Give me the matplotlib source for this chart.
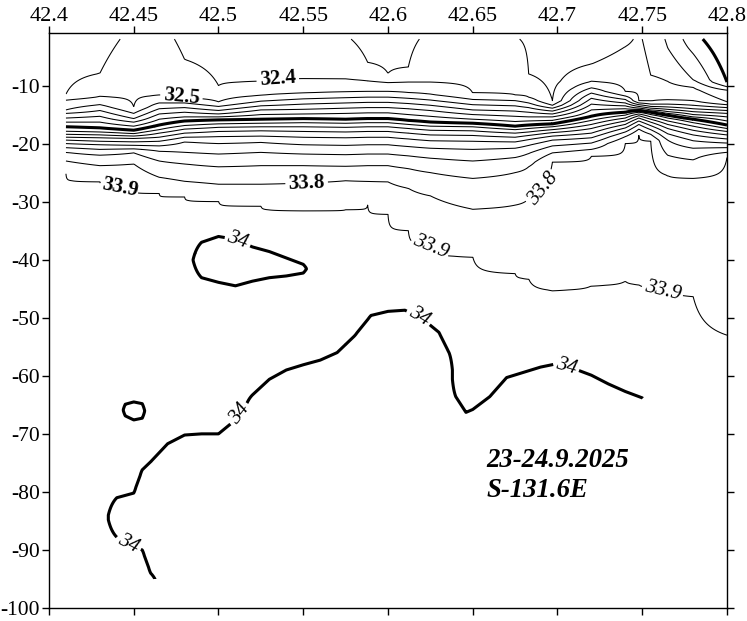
import numpy as np
import matplotlib
matplotlib.use("Agg")
import matplotlib.pyplot as plt

plt.rcParams['font.family'] = 'Liberation Serif'
plt.rcParams['axes.unicode_minus'] = False

nan = np.nan

# ---- upper layer: stations, surface salinity and isohaline depths ----
stations = [42.41, 42.43, 42.45, 42.465, 42.48, 42.50, 42.525, 42.55, 42.575, 42.588, 42.60,
            42.612, 42.625, 42.65, 42.675, 42.683, 42.697, 42.72, 42.74, 42.748, 42.755,
            42.765, 42.78, 42.80]
surface_sal = [32.33, 32.37, 32.42, 32.43, 32.38, 32.35, 32.34, 32.34, 32.31, 32.27, 32.24,
               32.28, 32.32, 32.34, 32.305, 32.29, 32.22, 32.23, 32.27, 32.32, 32.25,
               32.19, 32.04, 31.90]
levels = [32.0, 32.1, 32.2, 32.3, 32.4, 32.5, 32.6, 32.7, 32.8, 32.9,
          33.0, 33.1, 33.2, 33.3, 33.4, 33.5, 33.6, 33.7, 33.8, 33.9]
# depth (m) where each isohaline crosses each station, nan = not crossed
iso_depth = [
    [nan] * 23 + [-9.4],
    [nan] * 22 + [-4.5, -10.2],
    [nan] * 21 + [-3.5, -9.0, -10.8],
    [nan, nan, nan, nan, nan, nan, nan, nan, nan, -6.0, -7.9, -6.8, nan, nan, nan, -8.0, -12.6, -6.3, -3.3, nan, -8.2, -9.3, -10.3, -12.8],
    [-11.5, -7.9, nan, nan, -5.5, -10.0, -9.3, -8.8, -8.9, -9.2, -9.5, -9.4, -9.4, -11.3, -11.6, -12.0, -13.4, -9.3, -11.0, -12.6, -12.7, -12.5, -12.6, -13.3],
    [-12.5, -11.9, -13.7, -11.7, -12.1, -12.8, -11.7, -11.3, -11.1, -11.0, -11.0, -11.2, -11.5, -12.4, -12.6, -13.0, -13.9, -10.4, -11.8, -13.0, -13.2, -13.2, -13.4, -13.8],
    [-14.2, -13.3, -14.8, -13.0, -13.0, -13.6, -12.7, -12.3, -12.1, -12.0, -12.0, -12.2, -12.5, -13.3, -13.5, -13.8, -14.4, -11.3, -12.4, -13.3, -13.6, -13.7, -14.0, -14.3],
    [-14.8, -14.3, -15.7, -14.0, -13.8, -14.3, -13.5, -13.2, -13.0, -12.9, -12.9, -13.1, -13.4, -14.2, -14.4, -14.6, -14.9, -12.2, -13.0, -13.6, -13.9, -14.1, -14.5, -14.8],
    [-15.6, -15.3, -16.3, -14.9, -14.6, -14.9, -14.2, -14.1, -13.9, -13.8, -13.8, -14.0, -14.3, -15.0, -15.3, -15.4, -15.4, -13.2, -13.5, -13.9, -14.2, -14.5, -15.0, -15.4],
    [-16.3, -16.3, -17.0, -15.8, -15.4, -15.4, -15.0, -14.9, -14.8, -14.7, -14.7, -15.0, -15.3, -15.8, -16.2, -16.1, -16.0, -14.2, -14.0, -14.1, -14.4, -14.8, -15.4, -16.1],
    [-17.1, -17.3, -17.7, -16.8, -16.1, -15.9, -15.8, -15.7, -15.8, -15.7, -15.7, -16.0, -16.3, -16.5, -17.0, -16.8, -16.6, -15.3, -14.6, -14.3, -14.6, -15.1, -15.8, -16.8],
    [-17.9, -18.0, -18.3, -17.6, -16.9, -16.6, -16.5, -16.4, -16.5, -16.4, -16.4, -16.7, -17.0, -17.1, -17.6, -17.4, -17.1, -16.0, -15.1, -14.6, -15.0, -15.6, -16.4, -17.4],
    [-18.4, -18.5, -18.7, -18.2, -17.5, -17.2, -17.1, -17.1, -17.2, -17.1, -17.1, -17.4, -17.7, -17.8, -18.2, -18.0, -17.6, -16.7, -15.6, -14.9, -15.4, -16.1, -17.0, -17.9],
    [-18.9, -19.0, -19.1, -18.9, -18.2, -17.9, -17.8, -17.9, -18.0, -17.9, -17.9, -18.2, -18.5, -18.6, -18.9, -18.6, -18.1, -17.4, -16.1, -15.2, -15.8, -16.7, -17.7, -18.5],
    [-19.4, -19.6, -19.7, -19.6, -18.9, -18.8, -18.7, -18.9, -19.0, -18.9, -18.9, -19.2, -19.5, -19.6, -19.7, -19.3, -18.7, -18.2, -16.7, -15.6, -16.3, -17.4, -18.5, -19.2],
    [-20.0, -20.2, -20.3, -20.4, -19.7, -20.0, -19.8, -20.2, -20.3, -20.2, -20.2, -20.5, -20.8, -21.0, -20.8, -20.3, -19.4, -19.0, -17.3, -16.1, -16.9, -18.3, -19.5, -19.9],
    [-20.7, -21.0, -20.9, -21.3, -21.5, -21.8, -21.5, -21.8, -21.9, -21.8, -21.8, -22.1, -22.5, -23.0, -22.4, -21.7, -20.4, -19.9, -18.0, -16.7, -17.6, -19.4, -20.8, -20.7],
    [-21.5, -22.0, -21.6, -23.0, -23.5, -24.0, -23.8, -23.8, -23.9, -23.8, -23.8, -24.3, -25.0, -26.0, -25.0, -24.0, -21.6, -21.0, -18.8, -17.5, -18.4, -22.0, -22.8, -21.5],
    [-23.0, -23.8, -23.5, -25.8, -26.5, -27.0, -27.0, -26.8, -26.4, -26.5, -26.6, -27.7, -29.0, -31.3, -30.6, -29.5, -23.2, -22.2, -20.0, -18.6, -19.5, -25.5, -26.0, -22.4],
    [-25.2, -26.5, -27.5, -28.6, -29.2, -29.9, -30.8, -31.5, -31.4, -30.6, -32.2, -35.0, -37.5, -39.5, -42.4, -43.3, -45.3, -44.5, -43.7, -44.3, -44.8, -45.3, -46.3, -53.0],
]
deep_sal = 33.95  # below the 33.9 isohaline
labelled = [32.4, 32.5, 33.8, 33.9]

# ---- deep layer: where salinity exceeds 34 (top / bottom depth of the layer) ----
deep_x = [42.41, 42.43, 42.44, 42.445, 42.45, 42.455, 42.46, 42.47, 42.48, 42.49, 42.50,
          42.51, 42.52, 42.53, 42.54, 42.55, 42.56, 42.57, 42.58, 42.59, 42.60, 42.61,
          42.62, 42.63, 42.636, 42.64, 42.646, 42.65, 42.66, 42.67, 42.68, 42.69, 42.70,
          42.71, 42.72, 42.73, 42.74, 42.75, 42.76, 42.80]
big_top = [nan, nan, -81.0, -80.6, -80.2, -76.2, -74.8, -71.7, -70.2, -70.0, -70.0,
           -67.6, -63.3, -60.6, -59.0, -58.1, -57.3, -56.0, -53.2, -49.6, -48.9, -48.7,
           -50.1, -52.5, -56.0, -63.6, -66.3, -65.8, -63.6, -60.3, -59.4, -58.5, -57.9,
           -58.8, -59.9, -61.4, -62.7, -63.8, nan, nan]
big_bot = [nan, nan, -87.8, -88.6, -89.3, -90.0, -94.0] + [nan] * 33
loop_top = [nan, nan, nan, -64.9, -64.5, -64.8, nan, nan, nan, -37.0, -36.0,
            -36.5, -37.8, -38.6, -39.7, -40.8] + [nan] * 24
loop_bot = [nan, nan, nan, -66.9, -67.6, -67.3, nan, nan, nan, -43.1, -43.9,
            -44.5, -43.7, -43.1, -42.8, -42.3] + [nan] * 24

# data coverage (deepest measured depth)
bottom_x = [42.41, 42.46, 42.75, 42.80]
bottom_z = [-100.0, -95.4, -64.0, -53.3]

# ---- build gridded fields ----
z = np.linspace(-100, -2, 491)
x = np.linspace(42.41, 42.80, 781)

cols = []
for j in range(len(stations)):
    zk = [-2.0, -100.0]
    sk = [surface_sal[j], deep_sal]
    for lev, row in zip(levels, iso_depth):
        if not np.isnan(row[j]):
            zk.append(row[j])
            sk.append(lev)
    order = np.argsort(zk)
    cols.append(np.interp(z, np.array(zk)[order], np.array(sk)[order]))
cols = np.array(cols)
sal = np.array([np.interp(x, stations, cols[:, i]) for i in range(len(z))])


def layer_dist(top, bot):
    if np.isnan(top):
        return np.full_like(z, -np.inf)
    b = -np.inf if np.isnan(bot) else bot
    return np.minimum(top - z, z - b)


dcols = []
for j in range(len(deep_x)):
    d = np.maximum(layer_dist(big_top[j], big_bot[j]), layer_dist(loop_top[j], loop_bot[j]))
    dcols.append(34.0 + 0.02 * np.clip(d / 3.0, -1, 1))
dcols = np.array(dcols)
deep = np.array([np.interp(x, deep_x, dcols[:, i]) for i in range(len(z))])

X, Z = np.meshgrid(x, z)
below = Z < np.interp(x, bottom_x, bottom_z)[None, :]
sal = np.ma.masked_where(below, sal)
deep = np.ma.masked_where(below, deep)

# ---- plot ----
fig = plt.figure(figsize=(7.47, 6.21), dpi=100)
ax = fig.add_axes([0.0656, 0.0209, 0.9076, 0.9255])

plain = [lev for lev in levels if lev not in labelled]
lws = [2.2 if lev in (32.0, 33.0) else 0.75 for lev in plain]
ax.contour(X, Z, sal, levels=plain, colors='k', linewidths=lws)
cs = ax.contour(X, Z, sal, levels=labelled, colors='k', linewidths=0.75)
cd = ax.contour(X, Z, deep, levels=[34.0], colors='k', linewidths=2.2)

ax.set_xlim(42.4, 42.8)
ax.set_ylim(-100, -1)

upper_pos = [(42.535, -9.2), (42.478, -12.1), (42.442, -27.3), (42.552, -26.8),
             (42.688, -27.0), (42.628, -37.5), (42.762, -45.5)]
lab = ax.clabel(cs, manual=upper_pos, fmt='%.1f', fontsize=15, inline_spacing=3)
for i, t in enumerate(lab):
    if i < 4:
        t.set_fontweight('bold')
    else:
        t.set_fontstyle('italic')

deep_pos = [(42.512, -36.3), (42.618, -50.0), (42.705, -58.5), (42.511, -66.4), (42.447, -88.9)]
lab2 = ax.clabel(cd, manual=deep_pos, fmt=lambda v: '34', fontsize=15, inline_spacing=3)
for t in lab2:
    t.set_fontstyle('italic')

xticks = [42.4, 42.45, 42.5, 42.55, 42.6, 42.65, 42.7, 42.75, 42.8]
xlabels = ['42.4', '42.45', '42.5', '42.55', '42.6', '42.65', '42.7', '42.75', '42.8']
yticks = [-10, -20, -30, -40, -50, -60, -70, -80, -90, -100]
ax.set_xticks(xticks, xlabels)
ax.set_yticks(yticks, [str(v) for v in yticks])
ax.tick_params(axis='x', top=True, bottom=True, labeltop=True, labelbottom=False,
               direction='out', length=5, width=1, labelsize=16, pad=0.5)
ax.tick_params(axis='y', left=True, right=True, labelleft=True, direction='out',
               length=5, width=1, labelsize=15.5, pad=1.5)
for s in ax.spines.values():
    s.set_linewidth(1)

ax.text(42.658, -75.7, '23-24.9.2025', fontsize=19.3, fontweight='bold',
        fontstyle='italic', va='baseline')
ax.text(42.658, -80.8, 'S-131.6E', fontsize=19.3, fontweight='bold',
        fontstyle='italic', va='baseline')

fig.savefig('out.png', dpi=100)
